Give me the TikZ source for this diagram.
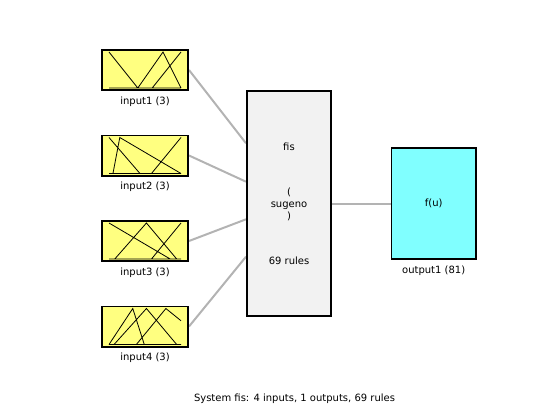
\documentclass[tikz,border=0pt]{standalone}
\usepackage{fontspec}
\setmainfont{DejaVu Sans}
\usepackage{xcolor}
\usepackage{tikz}
\usetikzlibrary{
  positioning, backgrounds
}
\definecolor{mfyellow} {HTML}{FFFF80}
\definecolor{fisgray}  {HTML}{F2F2F2}
\definecolor{outcyan}  {HTML}{80FFFF}
\definecolor{linkgray} {HTML}{B3B3B3}
\tikzset{
  inbox/.style={
    rectangle, inner sep=0pt,
    minimum width=86.4pt, minimum height=40.4pt,
    draw=black, fill=mfyellow, line width=1.6pt
  },
  fisbox/.style={
    rectangle, inner sep=0pt, align=center,
    minimum width=84.4pt, minimum height=225.4pt,
    draw=black, fill=fisgray, line width=1.6pt,
    font=\fontsize{10}{12}\selectfont
  },
  outbox/.style={
    rectangle, inner sep=0pt,
    minimum width=84.4pt, minimum height=111pt,
    draw=black, fill=outcyan, line width=1.6pt,
    font=\fontsize{10}{12}\selectfont
  },
  lbl/.style={inner sep=0pt, font=\fontsize{10}{12}\selectfont},
  link/.style={line width=2pt, color=linkgray},
  mfline/.style={line width=0.8pt, color=black}
}
\newcommand{\mfplot}[2]{%
  \begin{scope}[shift={(#1.center)}, xshift=-36pt, yshift=-18pt,
                x=72pt, y=36pt]
    \draw[mfline] (0,0) -- (1,0) #2;
  \end{scope}}

\begin{document}
\begin{tikzpicture}[x=1pt, y=-1pt]
  \useasboundingbox (0,0) rectangle (560,420);

  \node[inbox] (in1) at (145,70) {};
  \node[inbox, below=43.5pt of in1] (in2) {};
  \node[inbox, below=43.5pt of in2] (in3) {};
  \node[inbox, below=43.5pt of in3] (in4) {};

  \foreach \i in {1,...,4}{
    \node[lbl, below=5.5pt of in\i] (lab\i) {input\i\ (3)};
  }

  \mfplot{in1}{(0,1) -- (0.4,0) (0.4,0) -- (0.75,1) -- (1,0)
               (0.6,0) -- (1,1)}
  \mfplot{in2}{(0,1) -- (0.43,0) (0.055,0) -- (0.15,1) -- (1,0)
               (0.59,0) -- (1,1)}
  \mfplot{in3}{(0,1) -- (0.85,0) (0.08,0) -- (0.52,1) -- (0.94,0)
               (0.59,0) -- (1,1)}
  \mfplot{in4}{(0,0) -- (0.33,1) -- (0.49,0) (0.07,0) -- (0.52,1) -- (0.94,0)
               (0.38,0) -- (0.79,1) -- (1,0.66)}

  \node[fisbox] (fis) at (289,203.5)
    {fis\\[33pt](\\sugeno\\)\\[33pt]69 rules};

  \node[outbox] (out) at (433.7,203.5) {f(u)};
  \node[lbl, below=5.5pt of out] (outlab) {output1 (81)};

  \node[lbl] (cap) at (294.5,399) {System fis: 4 inputs, 1 outputs, 69 rules};

  \begin{scope}[on background layer]
    \foreach \i/\dy in {1/60.2, 2/21.8, 3/-15.8, 4/-53.2}{
      \coordinate (f\i) at ([yshift=\dy pt]fis.west);
      \draw[link] (in\i.east) -- (f\i);
    }
    \draw[link] (fis.east) -- (out.west);
  \end{scope}

\end{tikzpicture}
\end{document}
